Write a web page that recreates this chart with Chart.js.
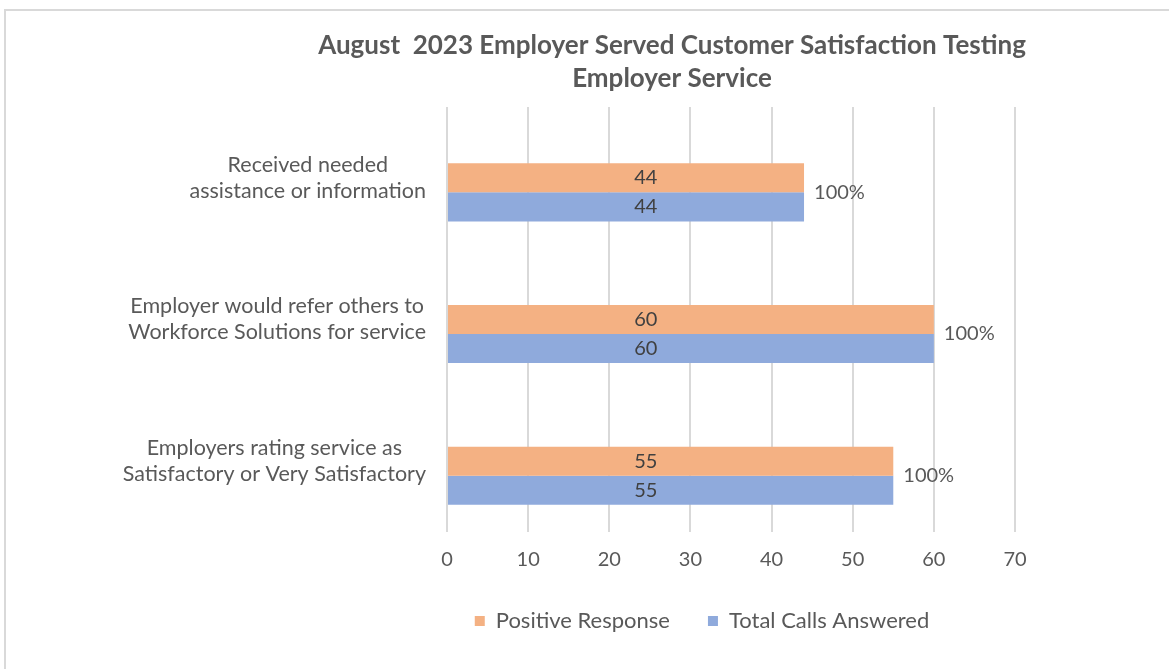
<!DOCTYPE html>
<html><head><meta charset="utf-8">
<script src="https://cdn.jsdelivr.net/npm/chart.js@4/dist/chart.umd.min.js"></script>
<style>
html,body{margin:0;padding:0;background:#fff;overflow:hidden}
#frame{position:absolute;left:4px;top:9px;width:1300px;height:800px;border-left:2px solid #d9d9d9;border-top:2px solid #d9d9d9;box-sizing:border-box}
#wrap{position:absolute;left:0;top:0;width:1169px;height:669px}
</style></head>
<body><div id="frame"></div><div id="wrap"><canvas id="c"></canvas></div>
<script>
const titleLines = ["August  2023 Employer Served Customer Satisfaction Testing", "Employer Service"];
const categories = [
  ["Received needed", "assistance or information"],
  ["Employer would refer others to", "Workforce Solutions for service"],
  ["Employers rating service as", "Satisfactory or Very Satisfactory"]
];
const positiveResponse = [44, 60, 55];
const totalCallsAnswered = [44, 60, 55];
const seriesNames = ["Positive Response", "Total Calls Answered"];
const xMin = 0, xMax = 70, xStep = 10;

const TEXT = '#595959';
const FONT = 'Lato';

const titlePlugin = {
  id: 'customTitle',
  afterDraw(chart, args, o) {
    const ctx = chart.ctx; ctx.save();
    ctx.font = 'bold 26px ' + FONT; ctx.fillStyle = TEXT;
    ctx.textAlign = 'center'; ctx.textBaseline = 'middle';
    titleLines.forEach((t, i) => ctx.fillText(t, o.x, o.y + i * o.lineHeight));
    ctx.restore();
  }
};

const yLabelPlugin = {
  id: 'yLabels',
  afterDraw(chart, args, o) {
    const ctx = chart.ctx; ctx.save();
    ctx.font = '21.5px ' + FONT; ctx.fillStyle = TEXT;
    ctx.textAlign = 'center'; ctx.textBaseline = 'middle';
    const ys = chart.scales.y;
    const right = chart.chartArea.left - o.gap;
    categories.forEach((lines, i) => {
      const cy = ys.getPixelForTick(i);
      const w = Math.max(...lines.map(l => ctx.measureText(l).width));
      const cx = right - w / 2;
      lines.forEach((l, j) => ctx.fillText(l, cx, cy + (j - (lines.length - 1) / 2) * o.lineHeight));
    });
    ctx.restore();
  }
};

const valueLabelPlugin = {
  id: 'valueLabels',
  afterDatasetsDraw(chart, args, o) {
    const ctx = chart.ctx; ctx.save();
    ctx.textBaseline = 'middle';
    const xs = chart.scales.x;
    const mPos = chart.getDatasetMeta(1), mTot = chart.getDatasetMeta(2);
    ctx.font = '20px ' + FONT; ctx.fillStyle = '#404040'; ctx.textAlign = 'center';
    [1, 2].forEach(di => {
      const meta = chart.getDatasetMeta(di);
      const data = chart.data.datasets[di].data;
      meta.data.forEach((bar, i) => {
        ctx.fillText(String(data[i]), xs.getPixelForValue(o.anchorValue), bar.y);
      });
    });
    ctx.fillStyle = TEXT; ctx.textAlign = 'left';
    mPos.data.forEach((bar, i) => {
      const b2 = mTot.data[i];
      const pct = Math.round(positiveResponse[i] / totalCallsAnswered[i] * 100) + '%';
      ctx.fillText(pct, Math.max(bar.x, b2.x) + o.pctGap, (bar.y + b2.y) / 2);
    });
    ctx.restore();
  }
};

new Chart(document.getElementById('c'), {
  type: 'bar',
  data: {
    labels: categories.map(l => l.join(' ')),
    datasets: [
      { label: '', data: categories.map(() => null), backgroundColor: 'rgba(0,0,0,0)' },
      { label: seriesNames[0], data: positiveResponse, backgroundColor: '#F4B183' },
      { label: seriesNames[1], data: totalCallsAnswered, backgroundColor: '#8FAADC' }
    ]
  },
  options: {
    indexAxis: 'y',
    responsive: true,
    maintainAspectRatio: false,
    animation: false,
    devicePixelRatio: 1,
    datasets: { bar: { barPercentage: 1, categoryPercentage: 0.615 } },
    layout: { padding: { top: 107, left: 389, right: 154, bottom: 27 } },
    scales: {
      x: {
        min: xMin, max: xMax,
        ticks: { stepSize: xStep, color: TEXT, font: { family: FONT, size: 20 }, padding: 16 },
        grid: { color: '#d9d9d9', lineWidth: 2, drawTicks: false },
        border: { display: false },
        afterFit(s) { s.height = 40; }
      },
      y: {
        ticks: { display: false },
        grid: { display: false },
        border: { display: false },
        afterFit(s) { s.width = 58; }
      }
    },
    plugins: {
      title: { display: false },
      tooltip: { enabled: false },
      legend: {
        position: 'bottom',
        labels: {
          filter: item => item.text !== '',
          boxWidth: 10, boxHeight: 10, padding: 38,
          color: TEXT, font: { family: FONT, size: 22 }
        }
      },
      customTitle: { x: 672, y: 46, lineHeight: 33 },
      yLabels: { gap: 21, lineHeight: 26 },
      valueLabels: { anchorValue: 24.5, pctGap: 10 }
    }
  },
  plugins: [titlePlugin, yLabelPlugin, valueLabelPlugin]
});
</script>
</body></html>
